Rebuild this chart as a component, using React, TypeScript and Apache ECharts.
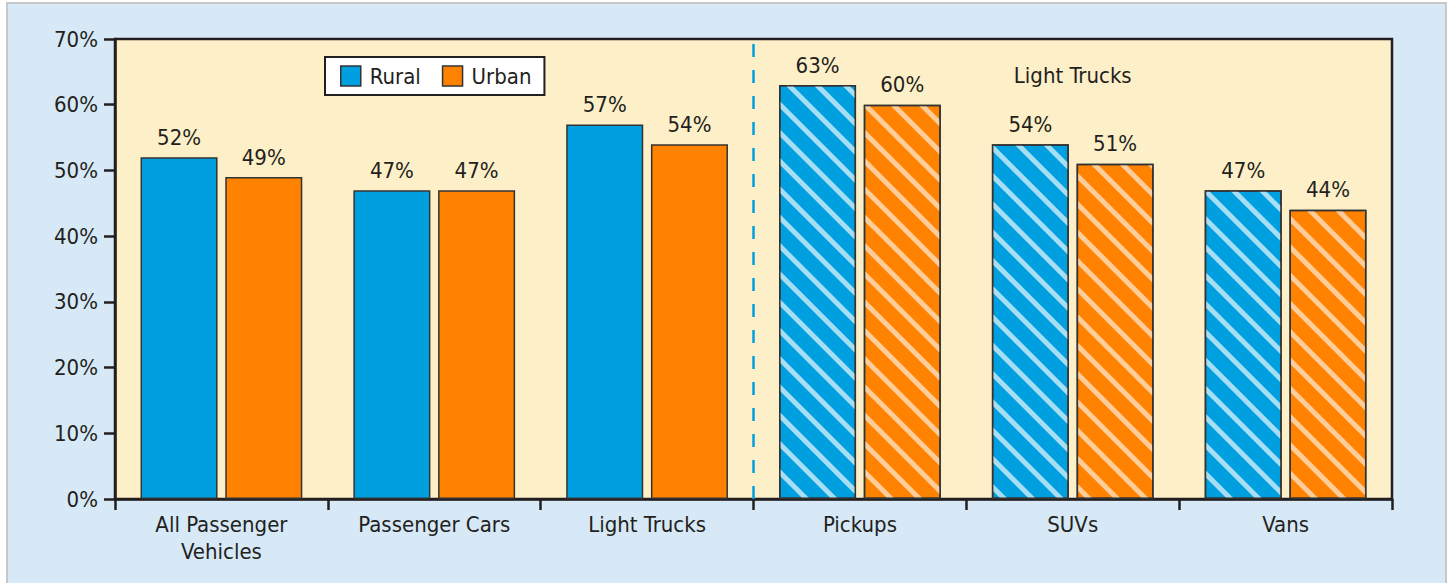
import React, { useEffect, useRef } from "react";
import * as echarts from "echarts";

const categories = ["All Passenger\nVehicles", "Passenger Cars", "Light Trucks", "Pickups", "SUVs", "Vans"];
const rural = [52, 47, 57, 63, 54, 47];
const urban = [49, 47, 54, 60, 51, 44];
const hatched = [false, false, false, true, true, true];
const yTicks = [0, 10, 20, 30, 40, 50, 60, 70];
const groupLabel = "Light Trucks";

const FONT = "'Liberation Sans Narrow', 'DejaVu Sans Condensed', 'Roboto', sans-serif";
const FS = 22;
const TEXT = "#231f20";
const BLUE = "#00a0e0";
const ORANGE = "#ff8300";

function barData(values: number[], stripe: string) {
  return values.map((v, i) =>
    hatched[i]
      ? {
          value: v,
          itemStyle: {
            decal: {
              symbol: "rect",
              symbolSize: 1,
              dashArrayX: [1, 0],
              dashArrayY: [5, 15],
              rotation: Math.PI / 4,
              color: stripe,
            },
          },
        }
      : v
  );
}

export default function App() {
  const ref = useRef<HTMLDivElement>(null);
  useEffect(() => {
    if (!ref.current) return;
    const chart = echarts.init(ref.current, null, { renderer: "svg" });
    const labelStyle = {
      show: true,
      position: "top",
      distance: 9,
      formatter: "{c}%",
      fontFamily: FONT,
      fontSize: FS,
      color: TEXT,
    };
    chart.setOption({
      animation: false,
      backgroundColor: "#ffffff",
      textStyle: { fontFamily: FONT },
      graphic: {
        elements: [
          {
            type: "rect",
            z: -100,
            shape: { x: 7, y: 3, width: 1439, height: 584 },
            style: { fill: "#d7e9f7", stroke: "#c8c8c8", lineWidth: 2 },
            silent: true,
          },
        ],
      },
      grid: {
        left: 115,
        right: 56,
        top: 39,
        bottom: 84,
        show: true,
        backgroundColor: "#fdefc7",
        borderColor: TEXT,
        borderWidth: 2.5,
      },
      legend: {
        data: ["Rural", "Urban"],
        left: 325,
        top: 57,
        orient: "horizontal",
        backgroundColor: "#ffffff",
        borderColor: TEXT,
        borderWidth: 2,
        borderRadius: 0,
        padding: [8, 13, 8, 15],
        itemWidth: 20,
        itemHeight: 20,
        itemGap: 21,
        icon: "rect",
        itemStyle: { borderColor: "#333333", borderWidth: 1.5 },
        textStyle: { fontFamily: FONT, fontSize: FS, color: TEXT, padding: [0, 0, 0, 4] },
      },
      xAxis: [
        {
          type: "category",
          data: categories,
          boundaryGap: true,
          axisLine: { lineStyle: { color: TEXT, width: 2.5 } },
          axisTick: { show: true, length: 11, lineStyle: { color: TEXT, width: 2.5 } },
          axisLabel: { fontFamily: FONT, fontSize: FS, color: TEXT, margin: 12, lineHeight: 27, interval: 0 },
          splitLine: { show: false },
        },
        { type: "value", min: 0, max: 6, show: false },
      ],
      yAxis: {
        type: "value",
        min: 0,
        max: 70,
        interval: 10,
        axisLine: { show: true, lineStyle: { color: TEXT, width: 2.5 } },
        axisTick: { show: true, length: 11, lineStyle: { color: TEXT, width: 2.5 } },
        axisLabel: {
          fontFamily: FONT,
          fontSize: FS,
          color: TEXT,
          margin: 17,
          formatter: (v: number) => (yTicks.includes(v) ? v + "%" : ""),
        },
        splitLine: { show: false },
      },
      series: [
        {
          name: "Rural",
          type: "bar",
          data: barData(rural, "rgba(255,255,255,0.65)"),
          barGap: "10%",
          barCategoryGap: "24%",
          itemStyle: { color: BLUE, borderColor: "#333333", borderWidth: 1.5 },
          label: labelStyle,
        },
        {
          name: "Urban",
          type: "bar",
          data: barData(urban, "rgba(255,255,255,0.6)"),
          barGap: "10%",
          barCategoryGap: "24%",
          itemStyle: { color: ORANGE, borderColor: "#333333", borderWidth: 1.5 },
          label: labelStyle,
        },
        {
          name: "divider",
          type: "scatter",
          xAxisIndex: 1,
          data: [],
          silent: true,
          markLine: {
            silent: true,
            symbol: "none",
            label: { show: false },
            lineStyle: { color: BLUE, width: 2.5, type: [13, 13] },
            data: [{ xAxis: 3 }],
          },
          markPoint: {
            silent: true,
            symbol: "circle",
            symbolSize: 0,
            label: {
              show: true,
              position: "inside",
              formatter: groupLabel,
              fontFamily: FONT,
              fontSize: FS,
              color: TEXT,
            },
            data: [{ coord: [4.5, 64.5] }],
          },
        },
      ],
    });
    return () => chart.dispose();
  }, []);
  return <div ref={ref} style={{ position: "fixed", left: 0, top: 0, width: 1448, height: 583 }} />;
}
